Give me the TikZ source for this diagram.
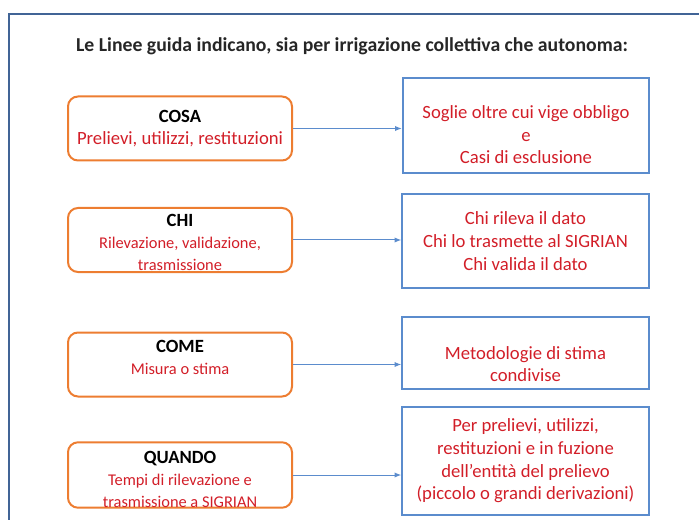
\documentclass[tikz,border=0pt]{standalone}
\usepackage{fontspec}
\setmainfont{Carlito}
\usetikzlibrary{arrows.meta}
\definecolor{frameblue}{RGB}{65,100,150}
\definecolor{boxorange}{RGB}{237,125,49}
\definecolor{boxblue}{RGB}{91,140,205}
\definecolor{textred}{RGB}{210,30,40}
\newcommand{\head}[1]{{\fontsize{14}{17}\selectfont\bfseries\color{black}#1}}

\begin{document}
\begin{tikzpicture}[x=0.75pt,y=-0.75pt,
  what/.style={draw=boxorange,line width=1.5pt,rounded corners=7.5pt,
    minimum width=168pt,minimum height=48pt,inner sep=0pt,align=center,
    text=textred,font=\fontsize{12.3}{16.5}\selectfont},
  answer/.style={draw=boxblue,line width=1.5pt,minimum width=185pt,
    inner sep=0pt,align=center,text=textred,font=\fontsize{14}{17}\selectfont},
  link/.style={boxblue,line width=0.75pt,-{Latex[length=5pt,width=4pt]}}]
\useasboundingbox (0,0) rectangle (699,520);
\draw[frameblue,line width=1.8pt] (9,530) |- (710,14);
\node[text=black!85,font=\fontsize{14.8}{17}\selectfont\bfseries] (title) at (352,46) {Le Linee guida indicano, sia per irrigazione collettiva che autonoma:};

% domande
\node[what] (cosa) at (180,128.5) {\head{COSA}\\{\fontsize{14}{17}\selectfont Prelievi, utilizzi, restituzioni}};
\node[what] (chi) at (180,240) {\mbox{}\\[-3.5pt]\head{CHI}\\Rilevazione, validazione,\\trasmissione};
\node[what] (come) at (180,364.5) {\head{COME}\\Misura o stima\\[-6.5pt]\mbox{}};
\node[what] (quando) at (180,475) {\mbox{}\\[-0.5pt]\head{QUANDO}\\Tempi di rilevazione e\\trasmissione a SIGRIAN};

% risposte
\node[answer,minimum height=71.25pt] (soglie) at (526,125.5) {\mbox{}\\[6.5pt]Soglie oltre cui vige obbligo\\e\\Casi di esclusione};
\node[answer,minimum height=69.75pt] (rileva) at (525.5,241) {Chi rileva il dato\\Chi lo trasmette al SIGRIAN\\Chi valida il dato};
\node[answer,minimum height=54pt] (metodo) at (525.5,353) {\mbox{}\\[9.5pt]Metodologie di stima\\condivise};
\node[answer,minimum height=81pt] (tempi) at (525.5,461) {Per prelievi, utilizzi,\\restituzioni e in fuzione\\dell’entità del prelievo\\(piccolo o grandi derivazioni)};

\foreach \a/\b in {cosa/soglie,chi/rileva,come/metodo,quando/tempi}
  \draw[link] (\a.east) -- (\a.east -| \b.west);
\end{tikzpicture}
\end{document}
